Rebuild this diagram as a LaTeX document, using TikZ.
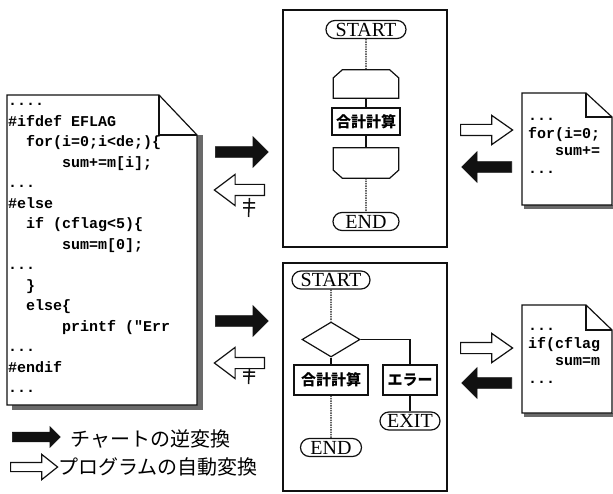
\documentclass[tikz,border=0pt]{standalone}
\usepackage{fontspec}
\setmainfont{Liberation Serif}
\newfontfamily\codefont{Liberation Mono}
\newfontfamily\jpfont{Noto Sans CJK JP}
\usepackage{tikz}
\usetikzlibrary{shapes.misc,shapes.geometric,shapes.arrows,calc}
\definecolor{ink}{HTML}{111111}
\definecolor{hatch}{HTML}{6A6A6A}
\tikzset{
  panel/.style={draw=ink,line width=1.1pt},
  docline/.style={draw=ink,line width=1.2pt,fill=white,line join=miter},
  docshadow/.style={fill=hatch},
  codetext/.style={anchor=north west,inner sep=0pt,align=left,
                   font=\codefont\bfseries\fontsize{15}{20.5}\selectfont},
  snippet/.style={anchor=north west,inner sep=0pt,align=left,
                  font=\codefont\bfseries\fontsize{15}{17.5}\selectfont},
  term/.style={draw=ink,line width=1.2pt,rounded rectangle,minimum height=18pt,
               inner ysep=0.5pt,inner xsep=2pt,font=\fontsize{20}{20}\selectfont},
  procbox/.style={draw=ink,line width=1.2pt,minimum height=27pt,inner sep=1pt,
                  font=\jpfont\bfseries\fontsize{15}{15}\selectfont},
  loopbox/.style={minimum width=65pt,inner sep=0pt},
  decision/.style={draw=ink,line width=1.2pt,diamond,aspect=1.66,
                   minimum width=58pt,minimum height=35pt,inner sep=0pt},
  flowline/.style={draw=ink,line width=1.2pt},
  flowdot/.style={draw=ink,line width=1.2pt,dash pattern=on 1.4pt off 1pt},
  blkarrow/.style={single arrow,fill=ink,draw=ink,line width=0.6pt,
                   inner xsep=0pt,inner ysep=5pt,single arrow head extend=10pt,
                   single arrow tip angle=90,minimum height=53pt,anchor=tail},
  hollowarrow/.style={single arrow,fill=white,draw=ink,line width=1.2pt,
                      inner xsep=0pt,inner ysep=5pt,single arrow head extend=10pt,
                      single arrow tip angle=74,minimum height=51pt,anchor=tail},
  neqmark/.style={draw=ink,line width=1.5pt},
  legend/.style={anchor=west,inner sep=0pt,font=\jpfont\fontsize{20}{20}\selectfont}
}

\begin{document}
\begin{tikzpicture}[x=1pt,y=-1pt]
  \useasboundingbox (0,0) rectangle (613,494);

  % source listing
  \fill[docshadow] (197,135) rectangle (203,410);
  \fill[docshadow] (12,405) rectangle (203,410);
  \draw[docline] (7,95) -- (159,95) -- (197,135) -- (197,405) -- (7,405) -- cycle;
  \draw[docline,fill=none] (159,95) -- (159,135) -- (197,135);
  \node[codetext] (srcL) at (8,91.15) {\strut....\\
    \strut\#ifdef EFLAG\\
    \strut\hphantom{xx}for(i=0;i<de;)\{\\
    \strut\hphantom{xxxxxx}sum+=m[i];\\
    \strut...\\
    \strut\#else\\
    \strut\hphantom{xx}if (cflag<5)\{\\
    \strut\hphantom{xxxxxx}sum=m[0];\\
    \strut...\\
    \strut\hphantom{xx}\}\\
    \strut\hphantom{xx}else\{\\
    \strut\hphantom{xxxxxx}printf ("Err\\
    \strut...\\
    \strut\#endif\\
    \strut...};

  % charts
  \draw[panel] (283,10) rectangle (447,247);
  \draw[panel] (283,263) rectangle (447,491);

  \node[term,minimum width=84pt] (startA) at (366,29.5) {START};
  \node[loopbox,minimum height=28pt] (loopA) at (366,84) {};
  \node[procbox,minimum width=68pt] (sumA) at (366,121.5) {合計計算};
  \node[loopbox,minimum height=30pt] (loopB) at (366,163) {};
  \node[term,minimum width=70pt] (endA) at (366,221.5) {END};
  \draw[flowline] (loopA.south west) -- ([yshift=-8pt]loopA.north west)
    -- ([xshift=9pt]loopA.north west) -- ([xshift=-9pt]loopA.north east)
    -- ([yshift=-8pt]loopA.north east) -- (loopA.south east) -- cycle;
  \draw[flowline] (loopB.north west) -- ([yshift=8pt]loopB.south west)
    -- ([xshift=9pt]loopB.south west) -- ([xshift=-9pt]loopB.south east)
    -- ([yshift=8pt]loopB.south east) -- (loopB.north east) -- cycle;
  \draw[flowdot] (startA) -- (loopA);
  \draw[flowline] (loopA) -- (sumA);
  \draw[flowline] (sumA) -- (loopB);
  \draw[flowdot] (loopB) -- (endA);

  \node[term,minimum width=82pt] (startB) at (331,280) {START};
  \node[decision] (ifB) at (331,339.5) {};
  \node[procbox,minimum width=74pt,minimum height=30pt] (sumB) at (331,380) {合計計算};
  \node[procbox,minimum width=54pt,minimum height=30pt] (errB) at (410,380) {エラー};
  \node[term,minimum width=64pt] (exitB) at (410,421) {EXIT};
  \node[term,minimum width=65pt] (endB) at (331,447.5) {END};
  \draw[flowdot] (startB) -- (ifB);
  \draw[flowline] (ifB) -- (sumB);
  \draw[flowline] (ifB.east) -| (errB);
  \draw[flowline] (errB) -- (exitB);
  \draw[flowdot] (sumB) -- (endB);

  % generated programs
  \fill[docshadow] (524,205) rectangle (613,209);
  \draw[docline] (522,93) -- (586,93) -- (612,117) -- (612,205) -- (522,205) -- cycle;
  \draw[docline,fill=none] (586,93) -- (586,117) -- (612,117);
  \node[snippet] (progA) at (528,108.25) {\strut...\\
    \strut for(i=0;\\
    \strut\hphantom{xxx}sum+=\\
    \strut...};

  \fill[docshadow] (524,413) rectangle (613,417);
  \draw[docline] (522,305) -- (586,305) -- (612,330) -- (612,413) -- (522,413) -- cycle;
  \draw[docline,fill=none] (586,305) -- (586,330) -- (612,330);
  \node[snippet] (progB) at (528,318.25) {\strut...\\
    \strut if(cflag\\
    \strut\hphantom{xxx}sum=m\\
    \strut...};

  % conversions
  \node[blkarrow] (invA) at (215,152) {};
  \node[hollowarrow,rotate=180,minimum height=50pt] (genA) at (265,190) {};
  \node[blkarrow] (invB) at (215,321) {};
  \node[hollowarrow,rotate=180,minimum height=50pt] (genB) at (265,363) {};
  \draw[neqmark,shift={(249,198)}] (-6,5) -- (6,5) (-6,10) -- (6,10) (0.5,0) -- (-0.5,19);
  \draw[neqmark,shift={(249,368)}] (-6,4) -- (6,4) (-6,8) -- (6,8) (0.5,0) -- (-0.5,16);

  \node[hollowarrow,single arrow head extend=9pt,single arrow tip angle=70,
        minimum height=52pt] (genC) at (460,130) {};
  \node[blkarrow,rotate=180,minimum height=50pt] (invC) at (512,167) {};
  \node[hollowarrow,single arrow head extend=9pt,single arrow tip angle=70,
        minimum height=52pt] (genD) at (460,348) {};
  \node[blkarrow,rotate=180,minimum height=50pt] (invD) at (512,383) {};

  % legend
  \node[blkarrow,inner ysep=4.5pt,single arrow head extend=5.5pt,
        minimum height=48pt] (keyInv) at (12,437) {};
  \node[legend] (keyInvText) at (70,439) {チャートの逆変換};
  \node[hollowarrow,inner ysep=4pt,single arrow head extend=8pt,
        single arrow tip angle=77,minimum height=47pt] (keyGen) at (10,467) {};
  \node[legend] (keyGenText) at (58,467) {プログラムの自動変換};
\end{tikzpicture}
\end{document}
